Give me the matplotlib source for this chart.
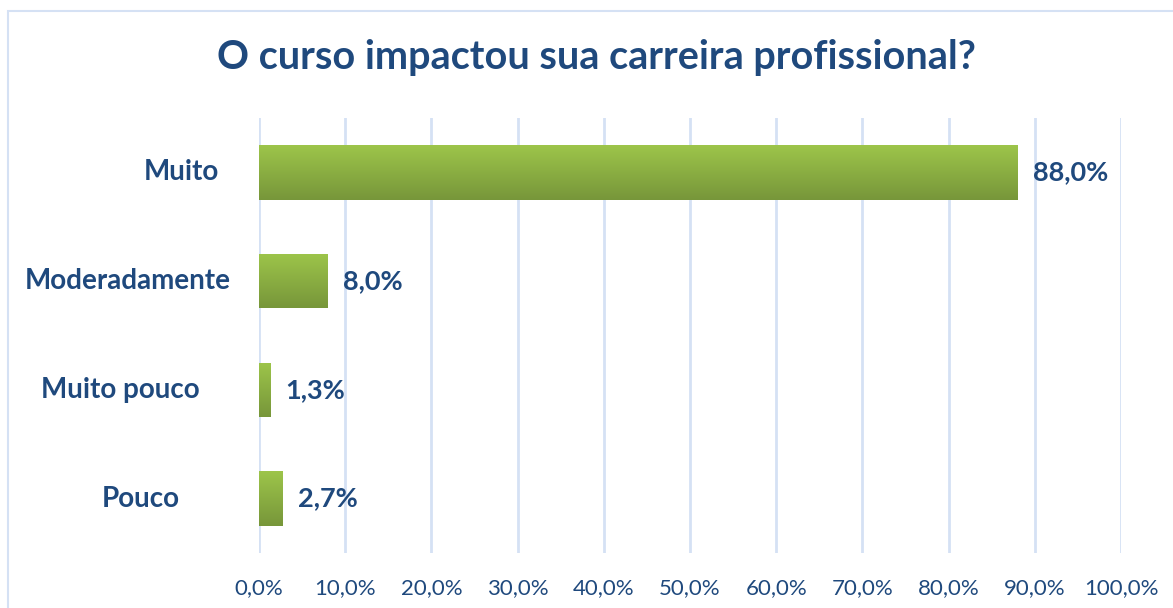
import numpy as np
import matplotlib.pyplot as plt
from matplotlib.patches import Rectangle
from matplotlib.colors import LinearSegmentedColormap

categories = ["Muito", "Moderadamente", "Muito pouco", "Pouco"]
values = [88.0, 8.0, 1.3, 2.7]
xticks = [0, 10, 20, 30, 40, 50, 60, 70, 80, 90, 100]
xtick_labels = ["0,0%", "10,0%", "20,0%", "30,0%", "40,0%", "50,0%", "60,0%", "70,0%", "80,0%", "90,0%", "100,0%"]
value_labels = ["88,0%", "8,0%", "1,3%", "2,7%"]
title = "O curso impactou sua carreira profissional?"

W, H = 1173, 608
fig = plt.figure(figsize=(W / 100, H / 100), dpi=100)
fig.patch.set_facecolor("white")

ax_left, ax_right, ax_top, ax_bot = 259, 1121, 118, 553
ax = fig.add_axes([ax_left / W, 1 - ax_bot / H, (ax_right - ax_left) / W, (ax_bot - ax_top) / H])

navy = "#1F497D"
grid_c = "#D5E1F4"
font = ["Lato", "DejaVu Sans"]

# outer chart frame
fig.patches.append(Rectangle((8 / W, -0.05), 1.1, 1 - 11 / H + 0.05, transform=fig.transFigure,
                             fill=False, edgecolor=grid_c, linewidth=1.5, clip_on=True))

y = np.arange(len(categories))
bars = ax.barh(y, values, height=0.5, color="none", edgecolor="none", zorder=3)
cmap = LinearSegmentedColormap.from_list("g", ["#9DC54A", "#77963A"])
grad = np.linspace(0, 1, 256).reshape(-1, 1)
for b in bars:
    x0, y0 = b.get_x(), b.get_y()
    w, h = b.get_width(), b.get_height()
    im = ax.imshow(grad, cmap=cmap, aspect="auto", extent=(x0, x0 + w, y0, y0 + h),
                   origin="lower", zorder=3, interpolation="bilinear")
    im.set_clip_path(b)

ax.set_xlim(0, 100)
ax.set_ylim(len(categories) - 0.5, -0.5)
ax.set_xticks(xticks)
ax.set_xticklabels(xtick_labels, fontsize=16, color=navy, family=font)
ax.tick_params(axis="x", length=0, pad=18)
ax.set_yticks([])
ax.grid(axis="x", color=grid_c, linewidth=2, zorder=0)
ax.set_axisbelow(True)
for s in ax.spines.values():
    s.set_visible(False)

for yi, v, lab in zip(y, values, value_labels):
    ax.annotate(lab, (v, yi), xytext=(11, 0), textcoords="offset points", va="center", ha="left",
                fontsize=19.5, fontweight="bold", color=navy, family=font)

label_x = [181, 128, 120, 141]
for yi, lab, px in zip(y, categories, label_x):
    ax.text((px - ax_left) / (ax_right - ax_left), yi, lab, transform=ax.get_yaxis_transform(),
            ha="center", va="center", fontsize=20, fontweight="bold", color=navy, family=font)

fig.text(596 / W, 1 - 58 / H, title, ha="center", va="center", fontsize=28.5, fontweight="bold",
         color=navy, family=font)

fig.savefig("out.png", dpi=100, facecolor="white")
